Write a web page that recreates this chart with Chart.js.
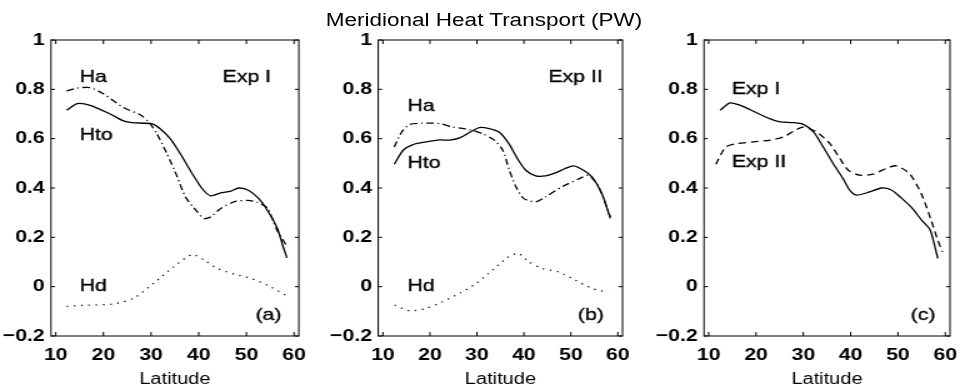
<!DOCTYPE html>
<html>
<head>
<meta charset="utf-8">
<title>Meridional Heat Transport</title>
<script src="https://cdn.jsdelivr.net/npm/chart.js@4.4.1/dist/chart.umd.min.js"></script>
<style>
  html, body { margin: 0; padding: 0; background: #fff; overflow: hidden; }
  /* the scanned figure is wider than it is tall, so the whole page is drawn narrow and stretched */
  #page { position: absolute; left: 0; top: 0; width: 770.4px; height: 391px; transform: scaleX(1.25); transform-origin: 0 0; }
  #page canvas { position: absolute; top: 0; }
  #title { position: absolute; top: 10px; left: 0; width: 774.4px; text-align: center; font: 18px 'Liberation Sans', Arial, sans-serif; line-height: 20px; color: #000; }
</style>
</head>
<body>
<div id="page">
  <div id="title">Meridional Heat Transport (PW)</div>
  <canvas id="panel-a"></canvas>
  <canvas id="panel-b"></canvas>
  <canvas id="panel-c"></canvas>
</div>
<script>
// axis ticks, same for the three panels
const latTicks = [10, 20, 30, 40, 50, 60];
const valueTicks = [-0.2, 0, 0.2, 0.4, 0.6, 0.8, 1];
const valueTickLabels = ['\u22120.2', '0', '0.2', '0.4', '0.6', '0.8', '1'];

// (a) Exp I
const latHtoA = [12.3, 14.5, 17.2, 21.4, 24.2, 26, 30.2, 31.9, 34, 36.1, 38.2, 40.7, 42.5, 44.6, 46.7, 48.4, 50.5, 52.6, 54.4, 56.5, 57.6, 58.5];
const htoA = [0.715, 0.742, 0.735, 0.70, 0.672, 0.665, 0.66, 0.64, 0.60, 0.54, 0.472, 0.398, 0.368, 0.38, 0.387, 0.40, 0.39, 0.357, 0.31, 0.236, 0.168, 0.117];
const latHaA = [12.3, 14.4, 17.2, 20, 24.2, 27.7, 29.5, 31.2, 33.3, 35.5, 37.2, 39.7, 41.1, 42.5, 44.6, 47.4, 50.2, 52.3, 54.4, 56.4, 58.6];
const haA = [0.793, 0.805, 0.807, 0.782, 0.726, 0.697, 0.668, 0.62, 0.54, 0.445, 0.364, 0.303, 0.276, 0.283, 0.317, 0.344, 0.35, 0.342, 0.318, 0.23, 0.16];
const latHdA = [12.3, 16.5, 22.1, 26.3, 30.5, 34.7, 38.6, 41.1, 43.9, 47.4, 50.9, 54.4, 58.2];
const hdA = [-0.08, -0.075, -0.07, -0.047, 0.013, 0.08, 0.13, 0.108, 0.074, 0.051, 0.034, 0.006, -0.034];

// (b) Exp II
const latHtoB = [12.4, 14.3, 16.4, 19.2, 22.1, 24.2, 26.3, 28.4, 30.5, 32.6, 34.7, 36.8, 38.6, 40.4, 42.5, 44.6, 46.7, 48.8, 50.6, 52.7, 54.5, 56.6, 58.4];
const htoB = [0.496, 0.553, 0.576, 0.587, 0.595, 0.594, 0.603, 0.625, 0.645, 0.641, 0.627, 0.58, 0.52, 0.472, 0.449, 0.449, 0.461, 0.479, 0.49, 0.472, 0.445, 0.378, 0.277];
const latHaB = [12.4, 14, 15.7, 18.5, 22.1, 24.9, 28.4, 31.2, 33.7, 35.5, 36.9, 38.3, 40, 42.5, 44.6, 48.1, 51.6, 53.8, 55.9, 58.4];
const haB = [0.566, 0.627, 0.658, 0.663, 0.661, 0.647, 0.637, 0.62, 0.594, 0.553, 0.472, 0.405, 0.357, 0.344, 0.364, 0.405, 0.436, 0.452, 0.405, 0.283];
const latHdB = [12.5, 15.7, 19.2, 22.7, 26.3, 29.8, 33.3, 36.5, 38.8, 41.1, 43.9, 47.4, 50.9, 54.5, 58];
const hdB = [-0.075, -0.098, -0.088, -0.061, -0.027, 0.013, 0.067, 0.118, 0.135, 0.10, 0.074, 0.06, 0.027, -0.007, -0.023];

// (c) Exp I against Exp II
const latExp1C = [12.4, 14.5, 16.7, 20.2, 23, 25.1, 27.9, 30, 32.2, 34.2, 36.3, 38.4, 39.8, 41.2, 44, 46.5, 48.6, 50.7, 52.9, 55, 56.8, 57.7, 58.4];
const exp1C = [0.715, 0.745, 0.735, 0.704, 0.68, 0.668, 0.665, 0.658, 0.627, 0.566, 0.499, 0.438, 0.391, 0.371, 0.384, 0.40, 0.392, 0.36, 0.32, 0.27, 0.23, 0.17, 0.115];
const latExp2C = [11.5, 13.6, 16, 19.5, 23, 25.8, 27.9, 30, 32.8, 35.6, 37.7, 39.5, 41.9, 44.7, 47.5, 49.6, 52.4, 54.9, 57, 58.4, 59.4];
const exp2C = [0.496, 0.566, 0.58, 0.587, 0.594, 0.607, 0.63, 0.647, 0.627, 0.58, 0.52, 0.472, 0.452, 0.456, 0.479, 0.49, 0.459, 0.378, 0.27, 0.189, 0.141];

const FONT = "'Liberation Sans', Arial, sans-serif";
const PLOT_TOP = 40;
const Y_AXIS_W = 40;
const X_AXIS_H = 55;

Chart.defaults.font.family = FONT;
Chart.defaults.font.size = 17;
Chart.defaults.color = '#000';

function xy(lats, vals) {
  return lats.map((x, i) => ({x: x, y: vals[i]}));
}

const SOLID = [];
const DASH_DOT = [6, 3, 1.2, 3];
const DOTTED = [1.2, 4.6];
const DASHED = [6, 4];

function line(lats, vals, dash) {
  return {data: xy(lats, vals), borderDash: dash, borderColor: '#000', borderWidth: 1.3, pointRadius: 0, tension: 0.25, fill: false};
}

// box round the plot with inward ticks, plus the text labels inside it
function makeFrame(notes) {
  return {
    id: 'frame',
    afterDatasetsDraw(chart) {
      const ctx = chart.ctx;
      const a = chart.chartArea;
      const x = chart.scales.x, y = chart.scales.y;
      ctx.save();
      ctx.strokeStyle = '#000';
      ctx.lineWidth = 1;
      ctx.strokeRect(a.left, a.top, a.right - a.left, a.bottom - a.top);
      ctx.beginPath();
      latTicks.forEach(v => {
        const px = x.getPixelForValue(v);
        ctx.moveTo(px, a.bottom); ctx.lineTo(px, a.bottom - 4);
        ctx.moveTo(px, a.top); ctx.lineTo(px, a.top + 4);
      });
      valueTicks.forEach(v => {
        const py = y.getPixelForValue(v);
        ctx.moveTo(a.left, py); ctx.lineTo(a.left + 3.2, py);
        ctx.moveTo(a.right, py); ctx.lineTo(a.right - 3.2, py);
      });
      ctx.stroke();
      ctx.fillStyle = '#000';
      ctx.font = '17px ' + FONT;
      ctx.textAlign = 'left';
      ctx.textBaseline = 'middle';
      ctx.strokeStyle = '#000';
      ctx.lineWidth = 0.35;
      notes.forEach(n => {
        const px = x.getPixelForValue(n[1]), py = y.getPixelForValue(n[2]);
        ctx.fillText(n[0], px, py);
        ctx.strokeText(n[0], px, py);
      });
      ctx.restore();
    }
  };
}

function makePanel(id, plotLeft, plotWidth, datasets, notes) {
  const canvas = document.getElementById(id);
  const left = Math.floor(plotLeft - Y_AXIS_W);
  const padLeft = plotLeft - Y_AXIS_W - left;
  const width = Math.ceil(padLeft + Y_AXIS_W + plotWidth + 14);
  const padRight = width - padLeft - Y_AXIS_W - plotWidth;
  canvas.width = width;
  canvas.height = 391;
  canvas.style.left = left + 'px';
  canvas.style.width = width + 'px';
  canvas.style.height = '391px';

  return new Chart(canvas, {
    type: 'line',
    data: {datasets: datasets},
    options: {
      responsive: false,
      animation: false,
      events: [],
      layout: {padding: {left: padLeft, right: padRight, top: PLOT_TOP, bottom: 0}},
      plugins: {legend: {display: false}, tooltip: {enabled: false}},
      scales: {
        x: {
          type: 'linear', min: 9, max: 61,
          grid: {display: false, drawTicks: false},
          border: {display: false},
          afterBuildTicks: s => { s.ticks = latTicks.map(v => ({value: v})); },
          afterFit: s => { s.height = X_AXIS_H; },
          ticks: {padding: 9, maxRotation: 0, autoSkip: false, color: '#000', font: {size: 17, weight: 'bold'}},
          title: {display: true, text: 'Latitude', color: '#000', font: {size: 16}, padding: {top: 0, bottom: 2}}
        },
        y: {
          type: 'linear', min: -0.2, max: 1,
          grid: {display: false, drawTicks: false},
          border: {display: false},
          afterBuildTicks: s => { s.ticks = valueTicks.map(v => ({value: v})); },
          afterFit: s => { s.width = Y_AXIS_W; },
          ticks: {padding: 5, autoSkip: false, color: '#000', font: {size: 17, weight: 'bold'}, callback: (v, i) => valueTickLabels[i]}
        }
      }
    },
    plugins: [makeFrame(notes)]
  });
}

makePanel('panel-a', 40.8, 198.6, [
  line(latHaA, haA, DASH_DOT),
  line(latHtoA, htoA, SOLID),
  line(latHdA, hdA, DOTTED)
], [['Ha', 15, 0.85], ['Hto', 15, 0.615], ['Hd', 15, 0], ['Exp I', 45, 0.85], ['(a)', 51.9, -0.115]]);

makePanel('panel-b', 302.6, 196, [
  line(latHaB, haB, DASH_DOT),
  line(latHtoB, htoB, SOLID),
  line(latHdB, hdB, DOTTED)
], [['Ha', 15.2, 0.73], ['Hto', 15.2, 0.5], ['Hd', 15.2, 0], ['Exp II', 45.2, 0.85], ['(b)', 51.5, -0.115]]);

makePanel('panel-c', 563.2, 196.8, [
  line(latExp1C, exp1C, SOLID),
  line(latExp2C, exp2C, DASHED)
], [['Exp I', 14.9, 0.8], ['Exp II', 14.9, 0.505], ['(c)', 52.7, -0.115]]);
</script>
</body>
</html>
